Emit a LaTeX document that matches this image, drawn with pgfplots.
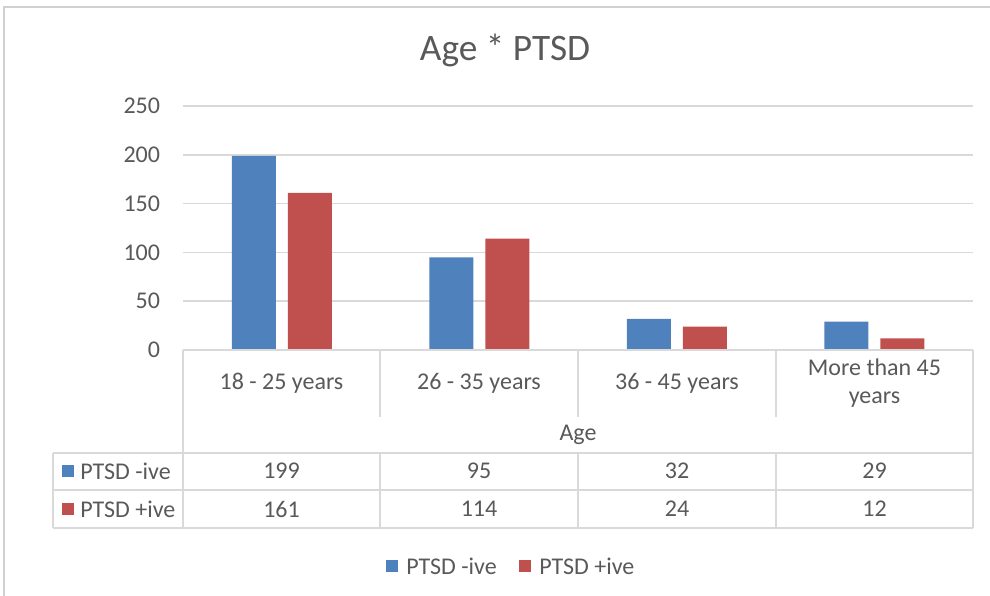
\documentclass[border=0pt]{standalone}
\usepackage{pgfplots}
\pgfplotsset{compat=1.18}
\usepackage{fontspec}
\setmainfont{Carlito}

\definecolor{negblue}{HTML}{4F81BD}
\definecolor{posred}{HTML}{C0504D}
\definecolor{txtgray}{HTML}{595959}
\definecolor{gridgray}{HTML}{D9D9D9}
\definecolor{framegray}{HTML}{D0D0D0}

\newcommand{\lbl}{\fontsize{18}{21.6}\selectfont\color{txtgray}}

\begin{document}
\begin{tikzpicture}
  % layout in pixel units, measured from the top-left corner
  \begin{scope}[x=0.75pt, y=-0.75pt]
    \path[use as bounding box] (0,0) rectangle (990,596);
    \draw[framegray, line width=1.5pt] (4,600) -- (4,7) -- (995,7);
    \node[font=\fontsize{28}{33}\selectfont, text=txtgray] at (505,50) {Age * PTSD};
  \end{scope}

  \begin{axis}[
    at={(137.25pt,-262.5pt)}, anchor=south west,
    scale only axis, width=592.5pt, height=183pt,
    xmin=-0.5, xmax=3.5, ymin=0, ymax=250,
    ytick={0,50,...,250}, xtick=\empty,
    ymajorgrids, grid style={gridgray, line width=1.2pt},
    axis line style={draw=none}, major tick length=0pt,
    yticklabel style={font=\lbl, anchor=east, inner sep=0pt, xshift=-17pt},
    /pgf/number format/assume math mode=true,
    ybar=9pt, bar width=33pt,
    every axis plot/.append style={draw=none},
    clip=false,
  ]
    \addplot[fill=negblue] coordinates {(0,199) (1,95) (2,32) (3,29)};
    \addplot[fill=posred] coordinates {(0,161) (1,114) (2,24) (3,12)};
  \end{axis}

  \begin{scope}[x=0.75pt, y=-0.75pt]
    % data table below the plot
    \begin{scope}[gridgray, line width=1.5pt]
      \draw (183,350) -- (973,350);
      \draw (183,350) -- (183,528);
      \draw (973,350) -- (973,528);
      \foreach \xx in {380,578,776} {
        \draw (\xx,350) -- (\xx,417);
        \draw (\xx,453) -- (\xx,528);
      }
      \draw (53,453) -- (973,453);
      \draw (53,490) -- (973,490);
      \draw (53,528) -- (973,528);
      \draw (53,453) -- (53,528);
    \end{scope}

    % category labels
    \node[font=\lbl] at (281.5,383) {18 - 25 years};
    \node[font=\lbl] at (479,383) {26 - 35 years};
    \node[font=\lbl] at (677,383) {36 - 45 years};
    \node[font=\lbl, align=center, text=txtgray] at (874.5,383) {More than 45\\years};
    \node[font=\lbl] at (578,435) {Age};

    % row headers with keys
    \fill[negblue] (62,465) rectangle (74,477);
    \node[font=\lbl, anchor=west, inner sep=0pt] at (80,471) {PTSD -ive};
    \fill[posred] (62,503) rectangle (74,515);
    \node[font=\lbl, anchor=west, inner sep=0pt] at (80,509) {PTSD +ive};

    % table values
    \foreach \xx/\v in {281.5/199, 479/95, 677/32, 874.5/29}
      \node[font=\lbl] at (\xx,471) {\v};
    \foreach \xx/\v in {281.5/161, 479/114, 677/24, 874.5/12}
      \node[font=\lbl] at (\xx,509) {\v};

    % legend
    \fill[negblue] (386,560) rectangle (398,572);
    \node[font=\lbl, anchor=west, inner sep=0pt] at (406,566) {PTSD -ive};
    \fill[posred] (519,560) rectangle (531,572);
    \node[font=\lbl, anchor=west, inner sep=0pt] at (539,566) {PTSD +ive};
  \end{scope}
\end{tikzpicture}
\end{document}
